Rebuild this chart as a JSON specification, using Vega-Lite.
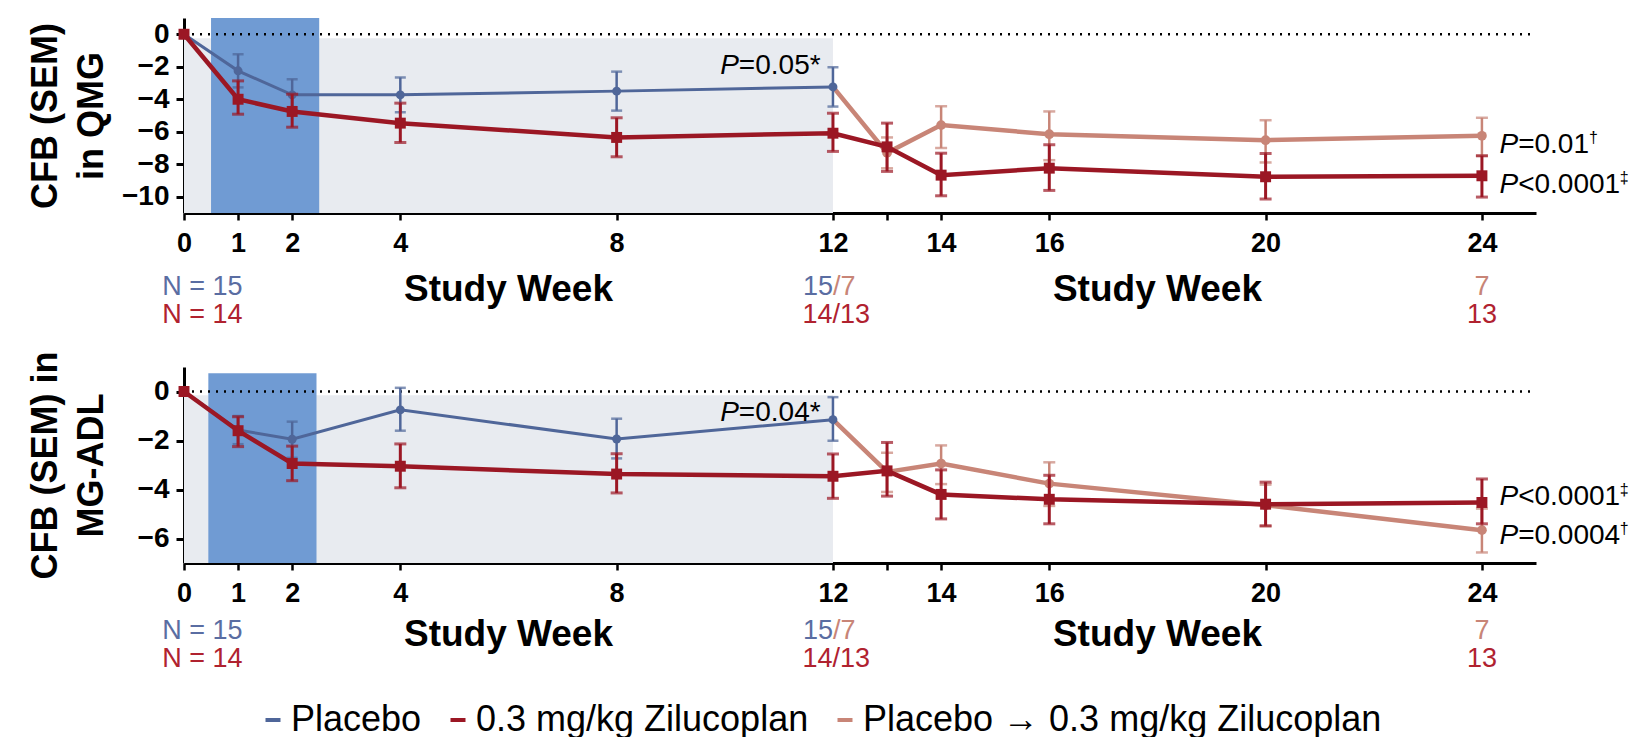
{
  "$schema": "https://vega.github.io/schema/vega-lite/v6.json",
  "background": "white",
  "padding": {"left": 27, "top": 18, "right": 0, "bottom": 0},
  "bounds": "flush",
  "spacing": 154,
  "resolve": {"scale": {"x": "independent", "y": "independent", "color": "shared"}, "legend": {"color": "shared"}},
  "config": {
    "view": {"stroke": null},
    "font": "Liberation Sans",
    "axisX": {"domainWidth": 3, "domainColor": "black", "tickSize": 7, "tickWidth": 2.5, "tickColor": "black", "labelFont": "Liberation Sans", "labelFontWeight": "bold", "labelFontSize": 27, "labelColor": "black", "labelPadding": 10, "grid": false, "labelFlush": false, "labelOverlap": false},
    "axisY": {"domainWidth": 3, "domainColor": "black", "tickSize": 8, "tickWidth": 3, "tickColor": "black", "labelFont": "Liberation Sans", "labelFontWeight": "bold", "labelFontSize": 28, "labelColor": "black", "labelPadding": 7, "grid": false, "labelOverlap": false, "minExtent": 57, "maxExtent": 57, "titlePadding": 17, "titleFont": "Liberation Sans", "titleFontWeight": "bold", "titleFontSize": 36, "titleLineHeight": 46, "titleColor": "black"},
    "legend": {"orient": "none", "legendX": 71, "legendY": 684, "direction": "horizontal", "title": null, "symbolType": "stroke", "symbolStrokeWidth": 4, "symbolSize": 225, "labelFontSize": 36, "labelFont": "Liberation Sans", "labelColor": "black", "labelOffset": 0, "columnPadding": 18, "padding": 0, "labelLimit": 800}
  },
  "datasets": {
    "qmg": [
      {"series": "Placebo", "week": 0, "mean": 0, "lo": null, "hi": null},
      {"series": "Placebo", "week": 1, "mean": -2.25, "lo": -1.23, "hi": -3.27},
      {"series": "Placebo", "week": 2, "mean": -3.73, "lo": -2.77, "hi": -4.7},
      {"series": "Placebo", "week": 4, "mean": -3.73, "lo": -2.66, "hi": -4.8},
      {"series": "Placebo", "week": 8, "mean": -3.5, "lo": -2.3, "hi": -4.7},
      {"series": "Placebo", "week": 12, "mean": -3.24, "lo": -2.03, "hi": -4.45},
      {"series": "0.3 mg/kg Zilucoplan", "week": 0, "mean": 0, "lo": null, "hi": null},
      {"series": "0.3 mg/kg Zilucoplan", "week": 1, "mean": -4.0, "lo": -2.87, "hi": -4.92},
      {"series": "0.3 mg/kg Zilucoplan", "week": 2, "mean": -4.75, "lo": -3.69, "hi": -5.72},
      {"series": "0.3 mg/kg Zilucoplan", "week": 4, "mean": -5.47, "lo": -4.24, "hi": -6.66},
      {"series": "0.3 mg/kg Zilucoplan", "week": 8, "mean": -6.35, "lo": -5.14, "hi": -7.54},
      {"series": "0.3 mg/kg Zilucoplan", "week": 12, "mean": -6.09, "lo": -4.86, "hi": -7.21},
      {"series": "0.3 mg/kg Zilucoplan", "week": 13, "mean": -6.93, "lo": -5.47, "hi": -8.44},
      {"series": "0.3 mg/kg Zilucoplan", "week": 14, "mean": -8.67, "lo": -7.32, "hi": -9.94},
      {"series": "0.3 mg/kg Zilucoplan", "week": 16, "mean": -8.24, "lo": -6.8, "hi": -9.61},
      {"series": "0.3 mg/kg Zilucoplan", "week": 20, "mean": -8.77, "lo": -7.34, "hi": -10.14},
      {"series": "0.3 mg/kg Zilucoplan", "week": 24, "mean": -8.71, "lo": -7.48, "hi": -10.02},
      {"series": "Placebo → 0.3 mg/kg Zilucoplan", "week": 12, "mean": -3.24, "lo": null, "hi": null},
      {"series": "Placebo → 0.3 mg/kg Zilucoplan", "week": 13, "mean": -7.3, "lo": -6.35, "hi": -8.25},
      {"series": "Placebo → 0.3 mg/kg Zilucoplan", "week": 14, "mean": -5.59, "lo": -4.43, "hi": -7.0},
      {"series": "Placebo → 0.3 mg/kg Zilucoplan", "week": 16, "mean": -6.15, "lo": -4.75, "hi": -7.75},
      {"series": "Placebo → 0.3 mg/kg Zilucoplan", "week": 20, "mean": -6.52, "lo": -5.29, "hi": -7.89},
      {"series": "Placebo → 0.3 mg/kg Zilucoplan", "week": 24, "mean": -6.25, "lo": -5.14, "hi": -7.48}
    ],
    "adl": [
      {"series": "Placebo", "week": 0, "mean": 0, "lo": null, "hi": null},
      {"series": "Placebo", "week": 1, "mean": -1.57, "lo": -1.0, "hi": -2.15},
      {"series": "Placebo", "week": 2, "mean": -1.95, "lo": -1.23, "hi": -2.71},
      {"series": "Placebo", "week": 4, "mean": -0.75, "lo": 0.15, "hi": -1.6},
      {"series": "Placebo", "week": 8, "mean": -1.94, "lo": -1.11, "hi": -2.73},
      {"series": "Placebo", "week": 12, "mean": -1.15, "lo": -0.23, "hi": -2.01},
      {"series": "0.3 mg/kg Zilucoplan", "week": 0, "mean": 0, "lo": null, "hi": null},
      {"series": "0.3 mg/kg Zilucoplan", "week": 1, "mean": -1.6, "lo": -1.03, "hi": -2.25},
      {"series": "0.3 mg/kg Zilucoplan", "week": 2, "mean": -2.94, "lo": -2.23, "hi": -3.64},
      {"series": "0.3 mg/kg Zilucoplan", "week": 4, "mean": -3.05, "lo": -2.14, "hi": -3.93},
      {"series": "0.3 mg/kg Zilucoplan", "week": 8, "mean": -3.37, "lo": -2.54, "hi": -4.14},
      {"series": "0.3 mg/kg Zilucoplan", "week": 12, "mean": -3.46, "lo": -2.55, "hi": -4.36},
      {"series": "0.3 mg/kg Zilucoplan", "week": 13, "mean": -3.24, "lo": -2.08, "hi": -4.27},
      {"series": "0.3 mg/kg Zilucoplan", "week": 14, "mean": -4.2, "lo": -3.2, "hi": -5.2},
      {"series": "0.3 mg/kg Zilucoplan", "week": 16, "mean": -4.4, "lo": -3.42, "hi": -5.4},
      {"series": "0.3 mg/kg Zilucoplan", "week": 20, "mean": -4.6, "lo": -3.7, "hi": -5.48},
      {"series": "0.3 mg/kg Zilucoplan", "week": 24, "mean": -4.53, "lo": -3.57, "hi": -5.4},
      {"series": "Placebo → 0.3 mg/kg Zilucoplan", "week": 12, "mean": -1.15, "lo": null, "hi": null},
      {"series": "Placebo → 0.3 mg/kg Zilucoplan", "week": 13, "mean": -3.28, "lo": -2.5, "hi": -4.1},
      {"series": "Placebo → 0.3 mg/kg Zilucoplan", "week": 14, "mean": -2.94, "lo": -2.2, "hi": -3.78},
      {"series": "Placebo → 0.3 mg/kg Zilucoplan", "week": 16, "mean": -3.76, "lo": -2.89, "hi": -4.67},
      {"series": "Placebo → 0.3 mg/kg Zilucoplan", "week": 20, "mean": -4.64, "lo": -3.8, "hi": -5.5},
      {"series": "Placebo → 0.3 mg/kg Zilucoplan", "week": 24, "mean": -5.66, "lo": -4.78, "hi": -6.57}
    ],
    "regions": [
      {"panel": "QMG", "kind": "followup", "x1": 0, "x2": 12, "y1": -0.25, "y2": -11},
      {"panel": "QMG", "kind": "dosing", "x1": 0.5, "x2": 2.5, "y1": -11, "y2": 1},
      {"panel": "QMG", "kind": "zero", "x1": 0, "x2": 24.9, "y1": 0, "y2": 0},
      {"panel": "ADL", "kind": "followup", "x1": 0, "x2": 12, "y1": -0.15, "y2": -7},
      {"panel": "ADL", "kind": "dosing", "x1": 0.45, "x2": 2.45, "y1": -7, "y2": 0.75},
      {"panel": "ADL", "kind": "zero", "x1": 0, "x2": 24.9, "y1": 0, "y2": 0}
    ],
    "notes": [
      {"panel": "QMG", "kind": "title", "x": 6, "y": -16.42, "text": "Study Week"},
      {"panel": "QMG", "kind": "title", "x": 18, "y": -16.42, "text": "Study Week"},
      {"panel": "QMG", "kind": "nblue", "x": 0.34, "y": -16.05, "text": "N = 15"},
      {"panel": "QMG", "kind": "nred", "x": 0.34, "y": -17.75, "text": "N = 14"},
      {"panel": "QMG", "kind": "nblueR", "x": 12.0, "y": -16.05, "text": "15"},
      {"panel": "QMG", "kind": "nsalmonL", "x": 12.0, "y": -16.05, "text": "/7"},
      {"panel": "QMG", "kind": "nred", "x": 12.06, "y": -17.75, "text": "14/13"},
      {"panel": "QMG", "kind": "nsalmon", "x": 24, "y": -16.05, "text": "7"},
      {"panel": "QMG", "kind": "nred", "x": 24, "y": -17.75, "text": "13"},
      {"panel": "QMG", "kind": "pital", "x": 10.26, "y": -2.45, "text": "P"},
      {"panel": "QMG", "kind": "prest", "x": 10.26, "y": -2.45, "text": "=0.05*"},
      {"panel": "QMG", "kind": "pital", "x": 24.67, "y": -7.31, "text": "P"},
      {"panel": "QMG", "kind": "prest", "x": 24.67, "y": -7.31, "text": "=0.01"},
      {"panel": "QMG", "kind": "psup", "x": 25.98, "y": -6.69, "text": "†"},
      {"panel": "QMG", "kind": "pital", "x": 24.67, "y": -9.77, "text": "P"},
      {"panel": "QMG", "kind": "prest", "x": 24.67, "y": -9.77, "text": "<0.0001"},
      {"panel": "QMG", "kind": "psup", "x": 26.55, "y": -9.15, "text": "‡"},
      {"panel": "ADL", "kind": "title", "x": 6, "y": -10.4, "text": "Study Week"},
      {"panel": "ADL", "kind": "title", "x": 18, "y": -10.4, "text": "Study Week"},
      {"panel": "ADL", "kind": "nblue", "x": 0.34, "y": -10.1, "text": "N = 15"},
      {"panel": "ADL", "kind": "nred", "x": 0.34, "y": -11.25, "text": "N = 14"},
      {"panel": "ADL", "kind": "nblueR", "x": 12.0, "y": -10.1, "text": "15"},
      {"panel": "ADL", "kind": "nsalmonL", "x": 12.0, "y": -10.1, "text": "/7"},
      {"panel": "ADL", "kind": "nred", "x": 12.06, "y": -11.25, "text": "14/13"},
      {"panel": "ADL", "kind": "nsalmon", "x": 24, "y": -10.1, "text": "7"},
      {"panel": "ADL", "kind": "nred", "x": 24, "y": -11.25, "text": "13"},
      {"panel": "ADL", "kind": "pital", "x": 10.26, "y": -1.2, "text": "P"},
      {"panel": "ADL", "kind": "prest", "x": 10.26, "y": -1.2, "text": "=0.04*"},
      {"panel": "ADL", "kind": "pital", "x": 24.67, "y": -4.63, "text": "P"},
      {"panel": "ADL", "kind": "prest", "x": 24.67, "y": -4.63, "text": "<0.0001"},
      {"panel": "ADL", "kind": "psup", "x": 26.55, "y": -4.22, "text": "‡"},
      {"panel": "ADL", "kind": "pital", "x": 24.67, "y": -6.22, "text": "P"},
      {"panel": "ADL", "kind": "prest", "x": 24.67, "y": -6.22, "text": "=0.0004"},
      {"panel": "ADL", "kind": "psup", "x": 26.55, "y": -5.82, "text": "†"}
    ]
  },
  "vconcat": [
    {
      "width": 1352,
      "height": 195,
      "layer": [
        {"data": {"name": "regions"}, "transform": [{"filter": "datum.panel == 'QMG' && datum.kind == 'followup'"}], "mark": {"type": "rect", "color": "#e8ebf0"},
         "encoding": {"x": {"field": "x1", "type": "quantitative", "title": null, "scale": {"domain": [0, 25], "nice": false, "zero": false}, "axis": {"values": [0, 1, 2, 4, 8, 12, 13, 14, 16, 20, 24], "labelExpr": "datum.value == 13 ? '' : datum.label", "labelOverlap": false}}, "x2": {"field": "x2"},
                      "y": {"field": "y1", "type": "quantitative", "title": ["CFB (SEM)", "in QMG"], "scale": {"domain": [-11, 1], "nice": false, "zero": false}, "axis": {"values": [0, -2, -4, -6, -8, -10], "labelOverlap": false}}, "y2": {"field": "y2"}}},
        {"data": {"name": "regions"}, "transform": [{"filter": "datum.panel == 'QMG' && datum.kind == 'dosing'"}], "mark": {"type": "rect", "color": "#709bd3"},
         "encoding": {"x": {"field": "x1", "type": "quantitative", "title": null}, "x2": {"field": "x2"}, "y": {"field": "y1", "type": "quantitative", "title": ["CFB (SEM)", "in QMG"], "axis": {"values": [0, -2, -4, -6, -8, -10], "labelOverlap": false}}, "y2": {"field": "y2"}}},
        {"data": {"name": "regions"}, "transform": [{"filter": "datum.panel == 'QMG' && datum.kind == 'zero'"}], "mark": {"type": "rule", "color": "black", "strokeWidth": 2.5, "strokeDash": [2, 6]},
         "encoding": {"x": {"field": "x1", "type": "quantitative", "title": null}, "x2": {"field": "x2"}, "y": {"field": "y1", "type": "quantitative", "title": ["CFB (SEM)", "in QMG"], "axis": {"values": [0, -2, -4, -6, -8, -10], "labelOverlap": false}}}},
        {"data": {"name": "qmg"}, "transform": [{"filter": "datum.series == 'Placebo → 0.3 mg/kg Zilucoplan'"}], "mark": {"type": "line", "strokeWidth": 4.5},
         "encoding": {"x": {"field": "week", "type": "quantitative", "title": null}, "y": {"field": "mean", "type": "quantitative", "title": ["CFB (SEM)", "in QMG"], "axis": {"values": [0, -2, -4, -6, -8, -10], "labelOverlap": false}},
                      "color": {"field": "series", "type": "nominal", "scale": {"domain": ["Placebo", "0.3 mg/kg Zilucoplan", "Placebo → 0.3 mg/kg Zilucoplan"], "range": ["#4f6699", "#9b1724", "#c88577"]}}}},
        {"data": {"name": "qmg"}, "transform": [{"filter": "datum.series == 'Placebo → 0.3 mg/kg Zilucoplan' && isValid(datum.lo)"}], "mark": {"type": "errorbar", "ticks": {"size": 12}, "thickness": 2.5},
         "encoding": {"x": {"field": "week", "type": "quantitative", "title": null}, "y": {"field": "lo", "type": "quantitative", "title": ["CFB (SEM)", "in QMG"], "axis": {"values": [0, -2, -4, -6, -8, -10], "labelOverlap": false}}, "y2": {"field": "hi"}, "color": {"value": "#c88577"}}},
        {"data": {"name": "qmg"}, "transform": [{"filter": "datum.series == 'Placebo → 0.3 mg/kg Zilucoplan' && datum.week > 12"}], "mark": {"type": "point", "shape": "circle", "filled": true, "size": 95, "opacity": 1, "color": "#c88577"},
         "encoding": {"x": {"field": "week", "type": "quantitative", "title": null}, "y": {"field": "mean", "type": "quantitative", "title": ["CFB (SEM)", "in QMG"], "axis": {"values": [0, -2, -4, -6, -8, -10], "labelOverlap": false}}}},
        {"data": {"name": "qmg"}, "transform": [{"filter": "datum.series == 'Placebo'"}], "mark": {"type": "line", "strokeWidth": 3},
         "encoding": {"x": {"field": "week", "type": "quantitative", "title": null}, "y": {"field": "mean", "type": "quantitative", "title": ["CFB (SEM)", "in QMG"], "axis": {"values": [0, -2, -4, -6, -8, -10], "labelOverlap": false}},
                      "color": {"field": "series", "type": "nominal", "scale": {"domain": ["Placebo", "0.3 mg/kg Zilucoplan", "Placebo → 0.3 mg/kg Zilucoplan"], "range": ["#4f6699", "#9b1724", "#c88577"]}}}},
        {"data": {"name": "qmg"}, "transform": [{"filter": "datum.series == 'Placebo' && isValid(datum.lo)"}], "mark": {"type": "errorbar", "ticks": {"size": 11}, "thickness": 2.5},
         "encoding": {"x": {"field": "week", "type": "quantitative", "title": null}, "y": {"field": "lo", "type": "quantitative", "title": ["CFB (SEM)", "in QMG"], "axis": {"values": [0, -2, -4, -6, -8, -10], "labelOverlap": false}}, "y2": {"field": "hi"}, "color": {"value": "#4f6699"}}},
        {"data": {"name": "qmg"}, "transform": [{"filter": "datum.series == 'Placebo'"}], "mark": {"type": "point", "shape": "circle", "filled": true, "size": 80, "opacity": 1, "color": "#4f6699"},
         "encoding": {"x": {"field": "week", "type": "quantitative", "title": null}, "y": {"field": "mean", "type": "quantitative", "title": ["CFB (SEM)", "in QMG"], "axis": {"values": [0, -2, -4, -6, -8, -10], "labelOverlap": false}}}},
        {"data": {"name": "qmg"}, "transform": [{"filter": "datum.series == '0.3 mg/kg Zilucoplan'"}], "mark": {"type": "line", "strokeWidth": 4.5},
         "encoding": {"x": {"field": "week", "type": "quantitative", "title": null}, "y": {"field": "mean", "type": "quantitative", "title": ["CFB (SEM)", "in QMG"], "axis": {"values": [0, -2, -4, -6, -8, -10], "labelOverlap": false}},
                      "color": {"field": "series", "type": "nominal", "scale": {"domain": ["Placebo", "0.3 mg/kg Zilucoplan", "Placebo → 0.3 mg/kg Zilucoplan"], "range": ["#4f6699", "#9b1724", "#c88577"]}}}},
        {"data": {"name": "qmg"}, "transform": [{"filter": "datum.series == '0.3 mg/kg Zilucoplan' && isValid(datum.lo)"}], "mark": {"type": "errorbar", "ticks": {"size": 12}, "thickness": 3},
         "encoding": {"x": {"field": "week", "type": "quantitative", "title": null}, "y": {"field": "lo", "type": "quantitative", "title": ["CFB (SEM)", "in QMG"], "axis": {"values": [0, -2, -4, -6, -8, -10], "labelOverlap": false}}, "y2": {"field": "hi"}, "color": {"value": "#9b1724"}}},
        {"data": {"name": "qmg"}, "transform": [{"filter": "datum.series == '0.3 mg/kg Zilucoplan'"}], "mark": {"type": "point", "shape": "square", "filled": true, "size": 120, "opacity": 1, "color": "#9b1724"},
         "encoding": {"x": {"field": "week", "type": "quantitative", "title": null}, "y": {"field": "mean", "type": "quantitative", "title": ["CFB (SEM)", "in QMG"], "axis": {"values": [0, -2, -4, -6, -8, -10], "labelOverlap": false}}}},
        {"data": {"name": "notes"}, "transform": [{"filter": "datum.panel == 'QMG' && datum.kind == 'title'"}], "mark": {"type": "text", "font": "Liberation Sans", "fontWeight": "bold", "fontSize": 37, "align": "center", "baseline": "alphabetic", "color": "black"},
         "encoding": {"x": {"field": "x", "type": "quantitative", "title": null}, "y": {"field": "y", "type": "quantitative", "title": ["CFB (SEM)", "in QMG"], "axis": {"values": [0, -2, -4, -6, -8, -10], "labelOverlap": false}}, "text": {"field": "text"}}},
        {"data": {"name": "notes"}, "transform": [{"filter": "datum.panel == 'QMG' && datum.kind == 'nblue'"}], "mark": {"type": "text", "fontSize": 27, "align": "center", "baseline": "alphabetic", "color": "#5a6da2"},
         "encoding": {"x": {"field": "x", "type": "quantitative", "title": null}, "y": {"field": "y", "type": "quantitative", "title": ["CFB (SEM)", "in QMG"], "axis": {"values": [0, -2, -4, -6, -8, -10], "labelOverlap": false}}, "text": {"field": "text"}}},
        {"data": {"name": "notes"}, "transform": [{"filter": "datum.panel == 'QMG' && datum.kind == 'nblueR'"}], "mark": {"type": "text", "fontSize": 27, "align": "right", "baseline": "alphabetic", "color": "#5a6da2"},
         "encoding": {"x": {"field": "x", "type": "quantitative", "title": null}, "y": {"field": "y", "type": "quantitative", "title": ["CFB (SEM)", "in QMG"], "axis": {"values": [0, -2, -4, -6, -8, -10], "labelOverlap": false}}, "text": {"field": "text"}}},
        {"data": {"name": "notes"}, "transform": [{"filter": "datum.panel == 'QMG' && datum.kind == 'nred'"}], "mark": {"type": "text", "fontSize": 27, "align": "center", "baseline": "alphabetic", "color": "#b0222f"},
         "encoding": {"x": {"field": "x", "type": "quantitative", "title": null}, "y": {"field": "y", "type": "quantitative", "title": ["CFB (SEM)", "in QMG"], "axis": {"values": [0, -2, -4, -6, -8, -10], "labelOverlap": false}}, "text": {"field": "text"}}},
        {"data": {"name": "notes"}, "transform": [{"filter": "datum.panel == 'QMG' && datum.kind == 'nsalmonL'"}], "mark": {"type": "text", "fontSize": 27, "align": "left", "baseline": "alphabetic", "color": "#c88577"},
         "encoding": {"x": {"field": "x", "type": "quantitative", "title": null}, "y": {"field": "y", "type": "quantitative", "title": ["CFB (SEM)", "in QMG"], "axis": {"values": [0, -2, -4, -6, -8, -10], "labelOverlap": false}}, "text": {"field": "text"}}},
        {"data": {"name": "notes"}, "transform": [{"filter": "datum.panel == 'QMG' && datum.kind == 'nsalmon'"}], "mark": {"type": "text", "fontSize": 27, "align": "center", "baseline": "alphabetic", "color": "#c88577"},
         "encoding": {"x": {"field": "x", "type": "quantitative", "title": null}, "y": {"field": "y", "type": "quantitative", "title": ["CFB (SEM)", "in QMG"], "axis": {"values": [0, -2, -4, -6, -8, -10], "labelOverlap": false}}, "text": {"field": "text"}}},
        {"data": {"name": "notes"}, "transform": [{"filter": "datum.panel == 'QMG' && datum.kind == 'pital'"}], "mark": {"type": "text", "fontSize": 28, "fontStyle": "italic", "align": "right", "baseline": "alphabetic", "color": "black"},
         "encoding": {"x": {"field": "x", "type": "quantitative", "title": null}, "y": {"field": "y", "type": "quantitative", "title": ["CFB (SEM)", "in QMG"], "axis": {"values": [0, -2, -4, -6, -8, -10], "labelOverlap": false}}, "text": {"field": "text"}}},
        {"data": {"name": "notes"}, "transform": [{"filter": "datum.panel == 'QMG' && datum.kind == 'prest'"}], "mark": {"type": "text", "fontSize": 28, "align": "left", "baseline": "alphabetic", "color": "black"},
         "encoding": {"x": {"field": "x", "type": "quantitative", "title": null}, "y": {"field": "y", "type": "quantitative", "title": ["CFB (SEM)", "in QMG"], "axis": {"values": [0, -2, -4, -6, -8, -10], "labelOverlap": false}}, "text": {"field": "text"}}},
        {"data": {"name": "notes"}, "transform": [{"filter": "datum.panel == 'QMG' && datum.kind == 'psup'"}], "mark": {"type": "text", "fontSize": 16, "align": "left", "baseline": "alphabetic", "color": "black"},
         "encoding": {"x": {"field": "x", "type": "quantitative", "title": null}, "y": {"field": "y", "type": "quantitative", "title": ["CFB (SEM)", "in QMG"], "axis": {"values": [0, -2, -4, -6, -8, -10], "labelOverlap": false}}, "text": {"field": "text"}}}
      ]
    },
    {
      "width": 1352,
      "height": 196,
      "layer": [
        {"data": {"name": "regions"}, "transform": [{"filter": "datum.panel == 'ADL' && datum.kind == 'followup'"}], "mark": {"type": "rect", "color": "#e8ebf0"},
         "encoding": {"x": {"field": "x1", "type": "quantitative", "title": null, "scale": {"domain": [0, 25], "nice": false, "zero": false}, "axis": {"values": [0, 1, 2, 4, 8, 12, 13, 14, 16, 20, 24], "labelExpr": "datum.value == 13 ? '' : datum.label", "labelOverlap": false}}, "x2": {"field": "x2"},
                      "y": {"field": "y1", "type": "quantitative", "title": ["CFB (SEM) in", "MG-ADL"], "scale": {"domain": [-7, 1], "nice": false, "zero": false}, "axis": {"values": [0, -2, -4, -6], "labelOverlap": false}}, "y2": {"field": "y2"}}},
        {"data": {"name": "regions"}, "transform": [{"filter": "datum.panel == 'ADL' && datum.kind == 'dosing'"}], "mark": {"type": "rect", "color": "#709bd3"},
         "encoding": {"x": {"field": "x1", "type": "quantitative", "title": null}, "x2": {"field": "x2"}, "y": {"field": "y1", "type": "quantitative", "title": ["CFB (SEM) in", "MG-ADL"], "axis": {"values": [0, -2, -4, -6], "labelOverlap": false}}, "y2": {"field": "y2"}}},
        {"data": {"name": "regions"}, "transform": [{"filter": "datum.panel == 'ADL' && datum.kind == 'zero'"}], "mark": {"type": "rule", "color": "black", "strokeWidth": 2.5, "strokeDash": [2, 6]},
         "encoding": {"x": {"field": "x1", "type": "quantitative", "title": null}, "x2": {"field": "x2"}, "y": {"field": "y1", "type": "quantitative", "title": ["CFB (SEM) in", "MG-ADL"], "axis": {"values": [0, -2, -4, -6], "labelOverlap": false}}}},
        {"data": {"name": "adl"}, "transform": [{"filter": "datum.series == 'Placebo → 0.3 mg/kg Zilucoplan'"}], "mark": {"type": "line", "strokeWidth": 4.5},
         "encoding": {"x": {"field": "week", "type": "quantitative", "title": null}, "y": {"field": "mean", "type": "quantitative", "title": ["CFB (SEM) in", "MG-ADL"], "axis": {"values": [0, -2, -4, -6], "labelOverlap": false}},
                      "color": {"field": "series", "type": "nominal", "scale": {"domain": ["Placebo", "0.3 mg/kg Zilucoplan", "Placebo → 0.3 mg/kg Zilucoplan"], "range": ["#4f6699", "#9b1724", "#c88577"]}}}},
        {"data": {"name": "adl"}, "transform": [{"filter": "datum.series == 'Placebo → 0.3 mg/kg Zilucoplan' && isValid(datum.lo)"}], "mark": {"type": "errorbar", "ticks": {"size": 12}, "thickness": 2.5},
         "encoding": {"x": {"field": "week", "type": "quantitative", "title": null}, "y": {"field": "lo", "type": "quantitative", "title": ["CFB (SEM) in", "MG-ADL"], "axis": {"values": [0, -2, -4, -6], "labelOverlap": false}}, "y2": {"field": "hi"}, "color": {"value": "#c88577"}}},
        {"data": {"name": "adl"}, "transform": [{"filter": "datum.series == 'Placebo → 0.3 mg/kg Zilucoplan' && datum.week > 12"}], "mark": {"type": "point", "shape": "circle", "filled": true, "size": 95, "opacity": 1, "color": "#c88577"},
         "encoding": {"x": {"field": "week", "type": "quantitative", "title": null}, "y": {"field": "mean", "type": "quantitative", "title": ["CFB (SEM) in", "MG-ADL"], "axis": {"values": [0, -2, -4, -6], "labelOverlap": false}}}},
        {"data": {"name": "adl"}, "transform": [{"filter": "datum.series == 'Placebo'"}], "mark": {"type": "line", "strokeWidth": 3},
         "encoding": {"x": {"field": "week", "type": "quantitative", "title": null}, "y": {"field": "mean", "type": "quantitative", "title": ["CFB (SEM) in", "MG-ADL"], "axis": {"values": [0, -2, -4, -6], "labelOverlap": false}},
                      "color": {"field": "series", "type": "nominal", "scale": {"domain": ["Placebo", "0.3 mg/kg Zilucoplan", "Placebo → 0.3 mg/kg Zilucoplan"], "range": ["#4f6699", "#9b1724", "#c88577"]}}}},
        {"data": {"name": "adl"}, "transform": [{"filter": "datum.series == 'Placebo' && isValid(datum.lo)"}], "mark": {"type": "errorbar", "ticks": {"size": 11}, "thickness": 2.5},
         "encoding": {"x": {"field": "week", "type": "quantitative", "title": null}, "y": {"field": "lo", "type": "quantitative", "title": ["CFB (SEM) in", "MG-ADL"], "axis": {"values": [0, -2, -4, -6], "labelOverlap": false}}, "y2": {"field": "hi"}, "color": {"value": "#4f6699"}}},
        {"data": {"name": "adl"}, "transform": [{"filter": "datum.series == 'Placebo'"}], "mark": {"type": "point", "shape": "circle", "filled": true, "size": 80, "opacity": 1, "color": "#4f6699"},
         "encoding": {"x": {"field": "week", "type": "quantitative", "title": null}, "y": {"field": "mean", "type": "quantitative", "title": ["CFB (SEM) in", "MG-ADL"], "axis": {"values": [0, -2, -4, -6], "labelOverlap": false}}}},
        {"data": {"name": "adl"}, "transform": [{"filter": "datum.series == '0.3 mg/kg Zilucoplan'"}], "mark": {"type": "line", "strokeWidth": 4.5},
         "encoding": {"x": {"field": "week", "type": "quantitative", "title": null}, "y": {"field": "mean", "type": "quantitative", "title": ["CFB (SEM) in", "MG-ADL"], "axis": {"values": [0, -2, -4, -6], "labelOverlap": false}},
                      "color": {"field": "series", "type": "nominal", "scale": {"domain": ["Placebo", "0.3 mg/kg Zilucoplan", "Placebo → 0.3 mg/kg Zilucoplan"], "range": ["#4f6699", "#9b1724", "#c88577"]}}}},
        {"data": {"name": "adl"}, "transform": [{"filter": "datum.series == '0.3 mg/kg Zilucoplan' && isValid(datum.lo)"}], "mark": {"type": "errorbar", "ticks": {"size": 12}, "thickness": 3},
         "encoding": {"x": {"field": "week", "type": "quantitative", "title": null}, "y": {"field": "lo", "type": "quantitative", "title": ["CFB (SEM) in", "MG-ADL"], "axis": {"values": [0, -2, -4, -6], "labelOverlap": false}}, "y2": {"field": "hi"}, "color": {"value": "#9b1724"}}},
        {"data": {"name": "adl"}, "transform": [{"filter": "datum.series == '0.3 mg/kg Zilucoplan'"}], "mark": {"type": "point", "shape": "square", "filled": true, "size": 120, "opacity": 1, "color": "#9b1724"},
         "encoding": {"x": {"field": "week", "type": "quantitative", "title": null}, "y": {"field": "mean", "type": "quantitative", "title": ["CFB (SEM) in", "MG-ADL"], "axis": {"values": [0, -2, -4, -6], "labelOverlap": false}}}},
        {"data": {"name": "notes"}, "transform": [{"filter": "datum.panel == 'ADL' && datum.kind == 'title'"}], "mark": {"type": "text", "font": "Liberation Sans", "fontWeight": "bold", "fontSize": 37, "align": "center", "baseline": "alphabetic", "color": "black"},
         "encoding": {"x": {"field": "x", "type": "quantitative", "title": null}, "y": {"field": "y", "type": "quantitative", "title": ["CFB (SEM) in", "MG-ADL"], "axis": {"values": [0, -2, -4, -6], "labelOverlap": false}}, "text": {"field": "text"}}},
        {"data": {"name": "notes"}, "transform": [{"filter": "datum.panel == 'ADL' && datum.kind == 'nblue'"}], "mark": {"type": "text", "fontSize": 27, "align": "center", "baseline": "alphabetic", "color": "#5a6da2"},
         "encoding": {"x": {"field": "x", "type": "quantitative", "title": null}, "y": {"field": "y", "type": "quantitative", "title": ["CFB (SEM) in", "MG-ADL"], "axis": {"values": [0, -2, -4, -6], "labelOverlap": false}}, "text": {"field": "text"}}},
        {"data": {"name": "notes"}, "transform": [{"filter": "datum.panel == 'ADL' && datum.kind == 'nblueR'"}], "mark": {"type": "text", "fontSize": 27, "align": "right", "baseline": "alphabetic", "color": "#5a6da2"},
         "encoding": {"x": {"field": "x", "type": "quantitative", "title": null}, "y": {"field": "y", "type": "quantitative", "title": ["CFB (SEM) in", "MG-ADL"], "axis": {"values": [0, -2, -4, -6], "labelOverlap": false}}, "text": {"field": "text"}}},
        {"data": {"name": "notes"}, "transform": [{"filter": "datum.panel == 'ADL' && datum.kind == 'nred'"}], "mark": {"type": "text", "fontSize": 27, "align": "center", "baseline": "alphabetic", "color": "#b0222f"},
         "encoding": {"x": {"field": "x", "type": "quantitative", "title": null}, "y": {"field": "y", "type": "quantitative", "title": ["CFB (SEM) in", "MG-ADL"], "axis": {"values": [0, -2, -4, -6], "labelOverlap": false}}, "text": {"field": "text"}}},
        {"data": {"name": "notes"}, "transform": [{"filter": "datum.panel == 'ADL' && datum.kind == 'nsalmonL'"}], "mark": {"type": "text", "fontSize": 27, "align": "left", "baseline": "alphabetic", "color": "#c88577"},
         "encoding": {"x": {"field": "x", "type": "quantitative", "title": null}, "y": {"field": "y", "type": "quantitative", "title": ["CFB (SEM) in", "MG-ADL"], "axis": {"values": [0, -2, -4, -6], "labelOverlap": false}}, "text": {"field": "text"}}},
        {"data": {"name": "notes"}, "transform": [{"filter": "datum.panel == 'ADL' && datum.kind == 'nsalmon'"}], "mark": {"type": "text", "fontSize": 27, "align": "center", "baseline": "alphabetic", "color": "#c88577"},
         "encoding": {"x": {"field": "x", "type": "quantitative", "title": null}, "y": {"field": "y", "type": "quantitative", "title": ["CFB (SEM) in", "MG-ADL"], "axis": {"values": [0, -2, -4, -6], "labelOverlap": false}}, "text": {"field": "text"}}},
        {"data": {"name": "notes"}, "transform": [{"filter": "datum.panel == 'ADL' && datum.kind == 'pital'"}], "mark": {"type": "text", "fontSize": 28, "fontStyle": "italic", "align": "right", "baseline": "alphabetic", "color": "black"},
         "encoding": {"x": {"field": "x", "type": "quantitative", "title": null}, "y": {"field": "y", "type": "quantitative", "title": ["CFB (SEM) in", "MG-ADL"], "axis": {"values": [0, -2, -4, -6], "labelOverlap": false}}, "text": {"field": "text"}}},
        {"data": {"name": "notes"}, "transform": [{"filter": "datum.panel == 'ADL' && datum.kind == 'prest'"}], "mark": {"type": "text", "fontSize": 28, "align": "left", "baseline": "alphabetic", "color": "black"},
         "encoding": {"x": {"field": "x", "type": "quantitative", "title": null}, "y": {"field": "y", "type": "quantitative", "title": ["CFB (SEM) in", "MG-ADL"], "axis": {"values": [0, -2, -4, -6], "labelOverlap": false}}, "text": {"field": "text"}}},
        {"data": {"name": "notes"}, "transform": [{"filter": "datum.panel == 'ADL' && datum.kind == 'psup'"}], "mark": {"type": "text", "fontSize": 16, "align": "left", "baseline": "alphabetic", "color": "black"},
         "encoding": {"x": {"field": "x", "type": "quantitative", "title": null}, "y": {"field": "y", "type": "quantitative", "title": ["CFB (SEM) in", "MG-ADL"], "axis": {"values": [0, -2, -4, -6], "labelOverlap": false}}, "text": {"field": "text"}}}
      ]
    }
  ]
}
